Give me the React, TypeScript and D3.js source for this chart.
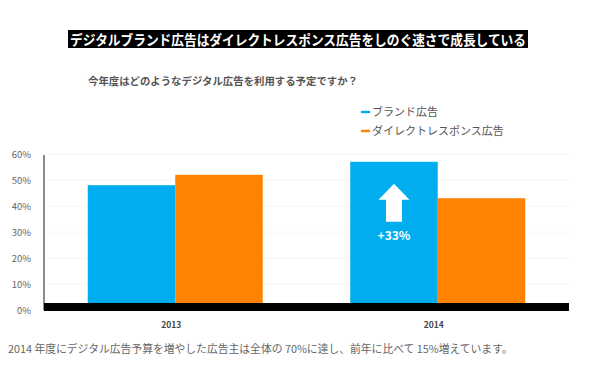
import React from "react";
import * as d3 from "d3";

const years = ["2013", "2014"];
const seriesNames = ["ブランド広告", "ダイレクトレスポンス広告"];
const brandValues = [48, 57];
const directValues = [52, 43];
const yTicks = [0, 10, 20, 30, 40, 50, 60];
const colors = ["#00adef", "#ff8200"];

const title = "デジタルブランド広告はダイレクトレスポンス広告をしのぐ速さで成長している";
const question = "今年度はどのようなデジタル広告を利用する予定ですか？";
const footnote = "2014 年度にデジタル広告予算を増やした広告主は全体の 70%に達し、前年に比べて 15%増えています。";
const growthLabel = "+33%";

const font = "'Noto Sans CJK JP', 'Noto Sans', sans-serif";

export default function App() {
  const width = 600;
  const height = 372;
  const margin = { left: 44, right: 31, top: 154, bottom: 62 };

  const x0 = d3.scaleBand().domain(years).range([margin.left, width - margin.right]).padding(0);
  const x1 = d3
    .scaleBand()
    .domain(seriesNames)
    .range([0, x0.bandwidth()])
    .paddingInner(0)
    .paddingOuter(0.5);
  const y = d3.scaleLinear().domain([0, 60]).range([height - margin.bottom, margin.top]);

  const rows = years.map((yr, i) => ({ year: yr, values: [brandValues[i], directValues[i]] }));

  // arrow inside the 2014 brand bar
  const ax = x0("2014")! + x1(seriesNames[0])! + x1.bandwidth() / 2;
  const tip = y(brandValues[1]) + 22;

  return (
    <svg width={width} height={height} style={{ position: "absolute", left: 0, top: 0, fontFamily: font }}>
      <rect width={width} height={height} fill="#fff" />

      <rect x={68} y={30} width={460} height={18} fill="#000" />
      <text
        x={70}
        y={44.5}
        fill="#fff"
        fontSize={14}
        fontWeight="bold"
        textLength={456}
        lengthAdjust="spacingAndGlyphs"
      >
        {title}
      </text>

      <text x={88} y={85} fill="#555" fontSize={10.4} fontWeight="bold">
        {question}
      </text>

      {seriesNames.map((s, i) => (
        <g key={s} transform={`translate(362, ${112 + i * 19})`}>
          <line x1={0} x2={7} y1={0} y2={0} stroke={colors[i]} strokeWidth={2.5} strokeLinecap="round" />
          <text x={10} y={4} fill="#555" fontSize={11}>
            {s}
          </text>
        </g>
      ))}

      {yTicks.map((t) => (
        <g key={t}>
          <line x1={margin.left} x2={width - margin.right} y1={y(t)} y2={y(t)} stroke="#f6f6f6" />
          <text x={31} y={y(t) + 3.5} textAnchor="end" fill="#666" fontSize={9.5}>
            {t}%
          </text>
        </g>
      ))}

      <line x1={margin.left} x2={margin.left} y1={y(60) + 1} y2={y(0)} stroke="#666" strokeWidth={1.5} />

      {rows.map((r) => (
        <g key={r.year} transform={`translate(${x0(r.year)},0)`}>
          {r.values.map((v, i) => (
            <rect
              key={i}
              x={x1(seriesNames[i])}
              y={y(v)}
              width={x1.bandwidth()}
              height={y(0) - y(v)}
              fill={colors[i]}
            />
          ))}
          <text
            x={x0.bandwidth() / 2 - 4}
            y={328}
            textAnchor="middle"
            fill="#444"
            fontSize={8.5}
            fontWeight="bold"
          >
            {r.year}
          </text>
        </g>
      ))}

      <rect x={margin.left} y={y(0) - 7} width={width - margin.left - margin.right} height={8} fill="#000" />

      <path
        d={`M${ax},${tip} L${ax + 15.5},${tip + 16} L${ax + 8},${tip + 16} L${ax + 8},${tip + 38} L${ax - 8},${tip + 38} L${ax - 8},${tip + 16} L${ax - 15.5},${tip + 16} Z`}
        fill="#fff"
      />
      <text x={ax} y={tip + 56} textAnchor="middle" fill="#fff" fontSize={12} fontWeight="bold">
        {growthLabel}
      </text>

      <text x={8} y={353} fill="#666" fontSize={10.8}>
        {footnote}
      </text>
    </svg>
  );
}
